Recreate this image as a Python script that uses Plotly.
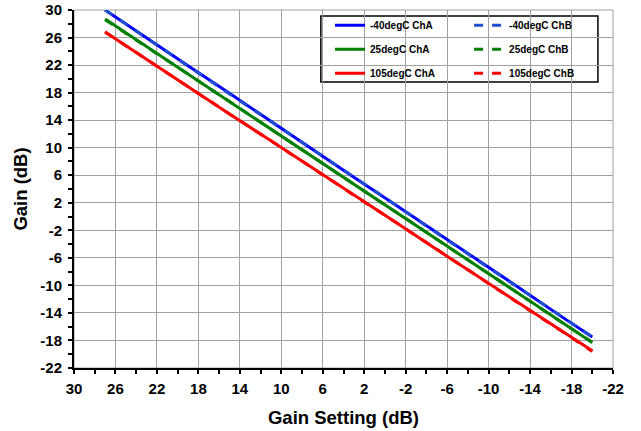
"""Gain vs gain setting at three temperatures, two channels."""
from plotly import graph_objects as go

# gain setting (dB)
setting = [27, 23, 19, 15, 11, 7, 3, -1, -5, -9, -13, -17, -20]

# measured gain (dB)
gain_m40_a = [30.0, 25.9, 21.9, 17.9, 13.8, 9.8, 5.7, 1.7, -2.3, -6.4, -10.4, -14.5, -17.5]
gain_m40_b = [30.0, 25.9, 21.9, 17.8, 13.8, 9.8, 5.7, 1.7, -2.4, -6.4, -10.4, -14.5, -17.5]
gain_25_a = [28.7, 24.7, 20.7, 16.7, 12.7, 8.7, 4.7, 0.7, -3.3, -7.3, -11.3, -15.3, -18.3]
gain_25_b = [28.6, 24.7, 20.7, 16.7, 12.7, 8.7, 4.7, 0.7, -3.3, -7.3, -11.3, -15.3, -18.3]
gain_105_a = [26.8, 22.8, 18.9, 14.9, 11.0, 7.1, 3.1, -0.8, -4.8, -8.7, -12.6, -16.6, -19.5]
gain_105_b = [26.8, 22.8, 18.9, 14.9, 11.0, 7.0, 3.1, -0.8, -4.8, -8.7, -12.7, -16.6, -19.6]

ticks = [30, 26, 22, 18, 14, 10, 6, 2, -2, -6, -10, -14, -18, -22]
tick_text = [str(t) for t in ticks]

FONT = "Liberation Sans, Arial, sans-serif"

series = [
    ("-40degC ChA", gain_m40_a, "#0000FF", "solid", "legend"),
    ("25degC ChA", gain_25_a, "#008000", "solid", "legend"),
    ("105degC ChA", gain_105_a, "#FF0000", "solid", "legend"),
    ("-40degC ChB", gain_m40_b, "#1F4FD0", "dash", "legend2"),
    ("25degC ChB", gain_25_b, "#008000", "dash", "legend2"),
    ("105degC ChB", gain_105_b, "#FF0000", "dash", "legend2"),
]

fig = go.Figure()
for i, (name, vals, color, dash, leg) in enumerate(series):
    fig.add_trace(
        go.Scatter(
            x=setting,
            y=vals,
            name=name,
            mode="lines",
            line=dict(color=color, width=3, dash=dash),
            legend=leg,
            legendgroup=f"g{i}",
        )
    )

axis_common = dict(
    tickmode="array",
    tickvals=ticks,
    ticktext=tick_text,
    showgrid=True,
    gridcolor="#A0A0A0",
    gridwidth=1,
    showline=True,
    linecolor="black",
    linewidth=2,
    ticks="outside",
    ticklen=4,
    tickwidth=2,
    tickcolor="black",
    minor=dict(dtick=2, ticks="outside", ticklen=4, tickwidth=2, tickcolor="black", showgrid=False),
    zeroline=False,
    automargin=False,
    tickfont=dict(family=FONT, size=15, color="black", weight=700),
)

# inner half of the crossing tick marks
inner_ticks = dict(
    tickmode="array",
    tickvals=ticks,
    showticklabels=False,
    showgrid=False,
    showline=False,
    zeroline=False,
    ticks="inside",
    ticklen=4,
    tickwidth=2,
    tickcolor="black",
    minor=dict(dtick=2, ticks="inside", ticklen=4, tickwidth=2, tickcolor="black", showgrid=False),
)

fig.update_layout(
    width=641,
    height=431,
    margin=dict(l=74, r=28, t=10, b=63),
    plot_bgcolor="white",
    paper_bgcolor="white",
    font=dict(family=FONT, color="black", weight=700),
    xaxis=dict(
        range=[30, -22],
        title=dict(text="Gain Setting (dB)", font=dict(family=FONT, size=18.5, weight=700), standoff=15),
        ticklabelstandoff=2,
        **axis_common,
    ),
    yaxis=dict(
        range=[-22, 30],
        title=dict(text="Gain (dB)", font=dict(family=FONT, size=18.5, weight=700), standoff=8),
        ticklabelstandoff=3,
        **axis_common,
    ),
    xaxis2=dict(range=[30, -22], overlaying="x", anchor="y2", **inner_ticks),
    yaxis2=dict(range=[-22, 30], overlaying="y", anchor="x2", **inner_ticks),
    legend=dict(
        x=0.475, y=0.998, xanchor="left", yanchor="top",
        bgcolor="rgba(0,0,0,0)", tracegroupgap=5,
        font=dict(family=FONT, size=10, weight=700),
    ),
    legend2=dict(
        x=0.733, y=0.998, xanchor="left", yanchor="top",
        bgcolor="rgba(0,0,0,0)", tracegroupgap=5,
        font=dict(family=FONT, size=10, weight=700),
    ),
    shapes=[
        dict(type="rect", xref="paper", yref="paper", x0=0, x1=1, y0=0, y1=1,
             line=dict(color="#A0A0A0", width=1), layer="below"),
        dict(type="rect", xref="paper", yref="paper", x0=0.458, x1=0.972, y0=0.799, y1=0.983,
             line=dict(color="black", width=1.5), fillcolor="white", layer="below"),
    ],
)

# drop the page's default body margin so the figure sits at the window origin
fig.write_html(
    "out.html",
    config={"displayModeBar": False},
    post_script="document.body.style.margin='0';",
)
